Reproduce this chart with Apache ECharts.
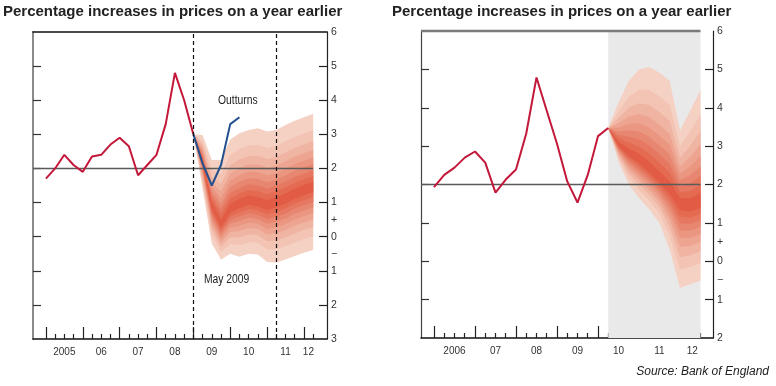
<!DOCTYPE html>
<html><head><meta charset="utf-8">
<script src="https://cdn.jsdelivr.net/npm/echarts@6/dist/echarts.min.js"></script>
<style>html,body{margin:0;padding:0;background:#fff}#c{width:776px;height:386px}</style>
</head><body><div id="c"></div>
<script>
// ---------- data ----------
const titleText = 'Percentage increases in prices on a year earlier';
const sourceText = 'Source: Bank of England';

// Left panel: May 2009 projection
const leftCpiX = [2005,2005.25,2005.5,2005.75,2006,2006.25,2006.5,2006.75,2007,2007.25,2007.5,2007.75,2008,2008.25,2008.5,2008.75,2009];
const leftCpi  = [1.7,2.0,2.4,2.1,1.9,2.35,2.4,2.7,2.9,2.65,1.8,2.1,2.4,3.3,4.8,4.0,3.0];
const outturnX = [2009,2009.25,2009.5,2009.75,2010,2010.25];
const outturn  = [3.0,2.15,1.5,2.1,3.3,3.5];
const leftFanX = [2009,2009.25,2009.5,2009.75,2010,2010.25,2010.5,2010.75,2011,2011.25,2011.5,2011.75,2012,2012.25];
const leftFanUpper   = [3.0,2.98,2.25,2.25,2.85,3.03,3.13,3.18,3.08,3.13,3.27,3.4,3.5,3.6];
const leftFanCentral = [3.0,2.2,0.9,0.35,0.8,0.95,1.05,1.0,0.9,1.0,1.1,1.25,1.35,1.45];
const leftFanLower   = [3.0,1.4,-0.2,-0.68,-0.5,-0.59,-0.5,-0.52,-0.74,-0.76,-0.67,-0.57,-0.47,-0.39];
const leftDashedX = [2009, 2011.25];
const leftYearLabels = ['2005','06','07','08','09','10','11','12'];
const leftYearLabelX = [2005.5,2006.5,2007.5,2008.5,2009.5,2010.5,2011.5,2012.12];
const leftYearTicks = [2005,2006,2007,2008,2009,2010,2011,2012];
const leftQuarterTicks = [2005.25,2005.5,2005.75,2006.25,2006.5,2006.75,2007.25,2007.5,2007.75,2008.25,2008.5,2008.75,2009.25,2009.5,2009.75,2010.25,2010.5,2010.75,2011.25,2011.5,2011.75,2012.25];
const leftYTicks = [-2,-1,0,1,2,3,4,5];
const leftYLabels = [-3,-2,-1,-0.5,0,0.5,1,2,3,4,5,6];

// Right panel: August 2010 projection
const rightCpiX = [2006,2006.25,2006.5,2006.75,2007,2007.25,2007.5,2007.75,2008,2008.25,2008.5,2008.75,2009,2009.25,2009.5,2009.75,2010,2010.25];
const rightCpi  = [1.93,2.25,2.44,2.7,2.86,2.57,1.79,2.13,2.39,3.33,4.79,3.92,3.06,2.08,1.53,2.25,3.26,3.47];
const rightFanX = [2010.25,2010.5,2010.75,2011,2011.25,2011.5,2011.75,2012,2012.25,2012.5];
const rightFanUpper   = [3.47,4.14,4.7,5.0,5.06,4.91,4.7,3.41,3.93,4.46];
const rightFanCentral = [3.47,3.03,2.8,2.62,2.39,2.13,1.87,1.5,1.45,1.55];
const rightFanLower   = [3.47,2.6,2.0,1.65,1.35,1.0,0.3,-0.7,-0.6,-0.5];
const rightYearLabels = ['2006','07','08','09','10','11','12'];
const rightYearLabelX = [2006.5,2007.5,2008.5,2009.5,2010.5,2011.5,2012.3];
const rightYearTicks = [2006,2007,2008,2009,2010,2011,2012];
const rightQuarterTicks = [2006.25,2006.5,2006.75,2007.25,2007.5,2007.75,2008.25,2008.5,2008.75,2009.25,2009.5,2009.75,2010.25,2010.5,2010.75,2011.25,2011.5,2011.75,2012.25,2012.5];
const rightYTicks = [-1,0,1,2,3,4,5];
const rightYLabels = [-2,-1,-0.5,0,0.5,1,2,3,4,5,6];

const targetRate = 2;

// ---------- styling ----------
const bandFractions = [1.0,0.779,0.63,0.512,0.41,0.319,0.234,0.154,0.076];
const bandColors = ['#f5d1c3','#f3c3b3','#f0b4a2','#eda591','#eb9681','#e88771','#e67861','#e46a52','#e25b45'];
const RED = '#c3183a', BLUE = '#23508e';
const SANS = "'Liberation Sans Narrow','Liberation Sans',Arial,sans-serif";

const chart = echarts.init(document.getElementById('c'));

function yLabelFmt(v){ if (v === 0.5) return '+'; if (v === -0.5) return '\u2212'; return String(Math.abs(v)); }

function fanSeries(gi, xs, up, ce, lo){
  return {
    type:'custom', xAxisIndex: gi*3, yAxisIndex: gi*2, z:2, silent:true, clip:false,
    data: bandFractions.map((f,i)=>[xs[0], ce[0], i]),
    encode:{x:0,y:1},
    renderItem: function(params, api){
      const i = params.dataIndex, f = bandFractions[i];
      const pts = [];
      for (let k=0;k<xs.length;k++) pts.push(api.coord([xs[k], ce[k] + f*(up[k]-ce[k])]));
      for (let k=xs.length-1;k>=0;k--) pts.push(api.coord([xs[k], ce[k] - f*(ce[k]-lo[k])]));
      return {type:'polygon', shape:{points:pts}, style:{fill:bandColors[i], stroke:null}};
    }
  };
}

function xAxes(gi, min, max, qTicks, yTicks, labX, labT, showTop){
  return [
    {type:'value', gridIndex:gi, min, max, position:'bottom',
     axisLine:{show:true, onZero:false, lineStyle:{color:'#111', width:1.5}},
     axisTick:{show:true, inside:true, length:12, customValues:yTicks, lineStyle:{color:'#222', width:1.2}},
     axisLabel:{show:true, customValues:labX, formatter:(v)=>labT[labX.indexOf(v)], color:'#333', fontFamily:SANS, fontSize:10, margin:8},
     splitLine:{show:false}},
    {type:'value', gridIndex:gi, min, max, position:'bottom',
     axisLine:{show:false, onZero:false},
     axisTick:{show:true, inside:true, length:5, customValues:qTicks, lineStyle:{color:'#222', width:1.2}},
     axisLabel:{show:false}, splitLine:{show:false}},
    {type:'value', gridIndex:gi, min, max, position:'top',
     axisLine:{show:showTop, onZero:false, lineStyle:{color:'#111', width:1.5}},
     axisTick:{show:false}, axisLabel:{show:false}, splitLine:{show:false}}
  ];
}
function yAxes(gi, min, max, ticks, labs, leftColor, leftWidth){
  return [
    {type:'value', gridIndex:gi, min, max, position:'right',
     axisLine:{show:true, onZero:false, lineStyle:{color:'#222', width:1.2}},
     axisTick:{show:true, inside:true, length:8, customValues:ticks, lineStyle:{color:'#222', width:1.2}},
     axisLabel:{show:true, customValues:labs, formatter:yLabelFmt, color:'#333', fontFamily:SANS, fontSize:10.5, margin:4},
     splitLine:{show:false}},
    {type:'value', gridIndex:gi, min, max, position:'left',
     axisLine:{show:true, onZero:false, lineStyle:{color:leftColor, width:leftWidth}},
     axisTick:{show:true, inside:true, length:8, customValues:ticks, lineStyle:{color:'#333', width:1.2}},
     axisLabel:{show:false}, splitLine:{show:false}}
  ];
}

const LMIN = 2004.65, LMAX = 2012.625, RMIN = 2005.683, RMAX = 2012.805;
const noteFont = "12px " + SANS;

const option = {
  animation:false,
  backgroundColor:'#fff',
  title:[
    {text:titleText, left:3, top:4, padding:0, textStyle:{fontFamily:"'Liberation Sans',Arial,sans-serif", fontWeight:'bold', fontSize:15, color:'#222'}},
    {text:titleText, left:392, top:4, padding:0, textStyle:{fontFamily:"'Liberation Sans',Arial,sans-serif", fontWeight:'bold', fontSize:15, color:'#222'}},
    {text:sourceText, right:7, top:366, padding:0, textStyle:{fontFamily:"'Liberation Sans',Arial,sans-serif", fontStyle:'italic', fontWeight:'normal', fontSize:12, color:'#222'}}
  ],
  grid:[
    {left:33, top:32, width:294, height:307},
    {left:421, top:31, width:292, height:307}
  ],
  xAxis:[
    ...xAxes(0, LMIN, LMAX, leftQuarterTicks, leftYearTicks, leftYearLabelX, leftYearLabels, true),
    ...xAxes(1, RMIN, RMAX, rightQuarterTicks, rightYearTicks, rightYearLabelX, rightYearLabels, false)
  ],
  yAxis:[
    ...yAxes(0, -3, 6, leftYTicks, leftYLabels, '#8a8a8a', 2),
    ...yAxes(1, -2, 6, rightYTicks, rightYLabels, '#444', 1.2)
  ],
  graphic:[
    {type:'text', x:204, y:274, scaleX:0.86, originX:0, style:{text:'May 2009', fill:'#222', font:noteFont}},
    {type:'text', x:218, y:95, scaleX:0.86, originX:0, style:{text:'Outturns', fill:'#222', font:noteFont}},
    {type:'text', x:616, y:275, scaleX:0.86, originX:0, style:{text:'August 2010', fill:'#222', font:noteFont}}
  ],
  series:[
    // right shaded forecast region
    {type:'line', xAxisIndex:3, yAxisIndex:2, z:0, data:[], silent:true,
     markArea:{silent:true, itemStyle:{color:'#e9e9e9'}, data:[[{xAxis:rightFanX[0]},{xAxis:rightFanX[rightFanX.length-1]}]]}},
    fanSeries(0, leftFanX, leftFanUpper, leftFanCentral, leftFanLower),
    fanSeries(1, rightFanX, rightFanUpper, rightFanCentral, rightFanLower),
    // right panel top border (ends with the projection)
    {type:'line', xAxisIndex:3, yAxisIndex:2, z:5, symbol:'none', silent:true, clip:false,
     data:[[RMIN,6],[rightFanX[rightFanX.length-1],6]], lineStyle:{color:'#7a7a7a', width:2.5}},
    // 2% lines
    {type:'line', xAxisIndex:0, yAxisIndex:0, z:3, symbol:'none', silent:true,
     data:[[LMIN,targetRate],[leftFanX[leftFanX.length-1],targetRate]],
     lineStyle:{color:'#5a5a5a', width:1.6},
     markLine:{symbol:'none', silent:true, label:{show:false}, lineStyle:{type:[4,3], color:'#111', width:1.2},
       data: leftDashedX.map(x=>({xAxis:x}))}},
    {type:'line', xAxisIndex:3, yAxisIndex:2, z:3, symbol:'none', silent:true,
     data:[[RMIN,targetRate],[rightFanX[rightFanX.length-1],targetRate]],
     lineStyle:{color:'#5a5a5a', width:1.6}},
    // inflation lines
    {type:'line', xAxisIndex:0, yAxisIndex:0, z:4, symbol:'none', data:leftCpiX.map((x,i)=>[x,leftCpi[i]]), lineStyle:{color:RED, width:2}},
    {type:'line', xAxisIndex:0, yAxisIndex:0, z:4, symbol:'none', data:outturnX.map((x,i)=>[x,outturn[i]]), lineStyle:{color:BLUE, width:2}},
    {type:'line', xAxisIndex:3, yAxisIndex:2, z:4, symbol:'none', data:rightCpiX.map((x,i)=>[x,rightCpi[i]]), lineStyle:{color:RED, width:2}}
  ]
};
chart.setOption(option);
</script>
</body></html>
